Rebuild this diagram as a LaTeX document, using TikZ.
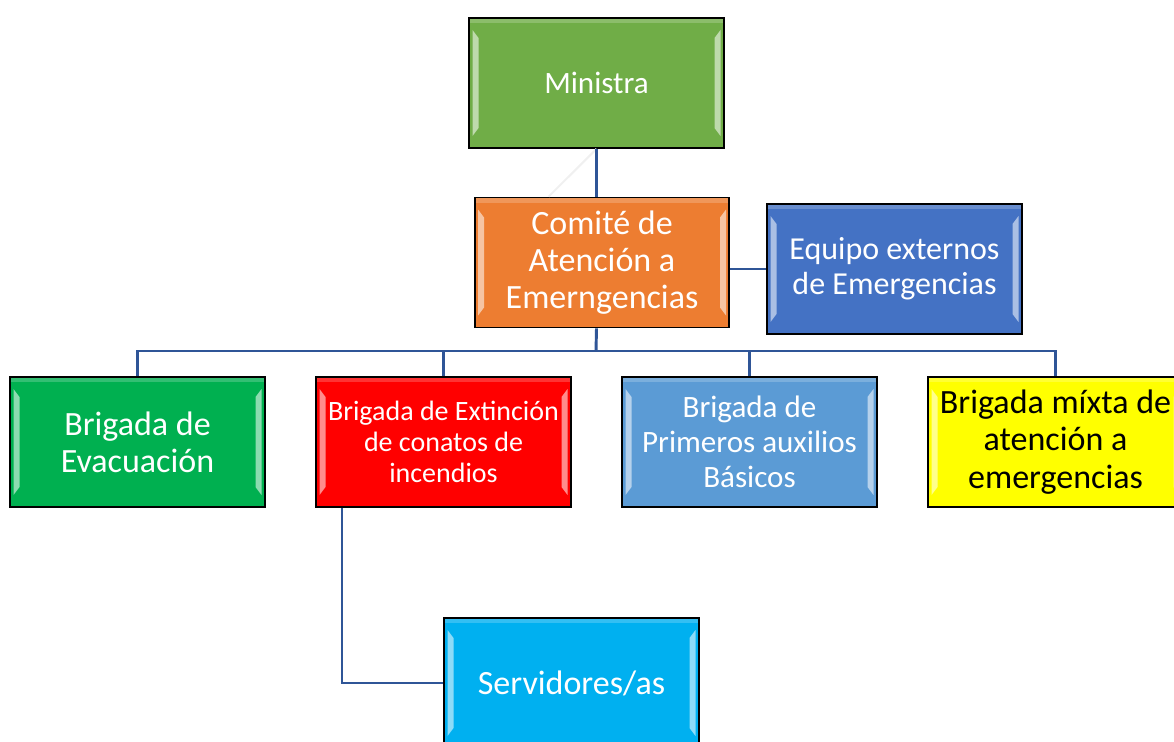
\documentclass[tikz,border=0pt]{standalone}
\usepackage{fontspec}
\setmainfont{Carlito}

\definecolor{linkblue}{HTML}{2F5597}
\definecolor{mingreen}{HTML}{70AD47}
\definecolor{comorange}{HTML}{ED7D31}
\definecolor{equblue}{HTML}{4472C4}
\definecolor{evagreen}{HTML}{00B050}
\definecolor{extred}{HTML}{FF0000}
\definecolor{priblue}{HTML}{5B9BD5}
\definecolor{mixyellow}{HTML}{FFFF00}
\definecolor{sercyan}{HTML}{00B0F0}

\tikzset{
  orgbox/.style={draw=black, line width=1.3pt, minimum width=191pt, minimum height=97.5pt,
    inner sep=0pt, align=center, text=white,
    path picture={
      \fill[white,opacity=.55] ([xshift=2.5pt,yshift=-9pt]path picture bounding box.north west)
        -- ++(4.5pt,-6pt) -- ([xshift=7pt,yshift=15pt]path picture bounding box.south west)
        -- ++(-4.5pt,-6pt) -- cycle;
      \fill[white,opacity=.55] ([xshift=-2.5pt,yshift=-9pt]path picture bounding box.north east)
        -- ++(-4.5pt,-6pt) -- ([xshift=-7pt,yshift=15pt]path picture bounding box.south east)
        -- ++(4.5pt,-6pt) -- cycle;
      \fill[white,opacity=.2] (path picture bounding box.north west) rectangle
        ([yshift=-4pt]path picture bounding box.north east);
    }},
  link/.style={linkblue, line width=1.6pt},
  trunk/.style={linkblue, line width=2.2pt}
}

\begin{document}
\begin{tikzpicture}[x=0.75pt, y=-0.75pt]
  \useasboundingbox (0,0) rectangle (1174,742);
  \clip (0,0) rectangle (1174,742);

  % top levels
  \node[orgbox, fill=mingreen, font=\fontsize{23.3}{26}\selectfont] (min) at (596.5,83) {Ministra};
  \node[orgbox, fill=comorange, font=\fontsize{25.5}{28}\selectfont] (com) at (602,262.5)
    {Comité de\\Atención a\\Emerngencias};
  \node[orgbox, fill=equblue, font=\fontsize{24}{26.3}\selectfont] (equ) at (894.5,269)
    {Equipo externos\\de Emergencias};

  % brigades
  \node[orgbox, fill=evagreen, font=\fontsize{25.5}{27.8}\selectfont] (eva) at (137.5,442)
    {Brigada de\\Evacuación};
  \node[orgbox, fill=extred, font=\fontsize{21}{23.3}\selectfont] (ext) at (443.5,442)
    {Brigada de Extinción\\de conatos de\\incendios};
  \node[orgbox, fill=priblue, font=\fontsize{23.3}{26.3}\selectfont] (pri) at (749.5,442)
    {Brigada de\\Primeros auxilios\\Básicos};
  \node[orgbox, fill=mixyellow, text=black, font=\fontsize{25.5}{28}\selectfont] (mix) at (1055.5,442)
    {Brigada míxta de\\atención a\\emergencias};

  \node[orgbox, fill=sercyan, font=\fontsize{25.5}{28}\selectfont] (ser) at (571.5,683) {Servidores/as};

  % connectors
  \coordinate (bus) at (596,351);
  \draw[black!6, line width=1.5pt] (min.south) -- ([xshift=-40pt]com.north);
  \draw[trunk] (min.south) -- (min.south |- com.north);
  \draw[trunk] (min.south |- com.south) -- (bus);
  \draw[link] (equ.west -| com.east) -- (equ.west);
  \draw[link] (bus) -| (eva.north);
  \draw[link] (bus) -| (ext.north);
  \draw[link] (bus) -| (pri.north);
  \draw[link] (bus) -| (mix.north);
  \draw[link] ([xshift=-76pt]ext.south) |- (ser.west);
\end{tikzpicture}
\end{document}
